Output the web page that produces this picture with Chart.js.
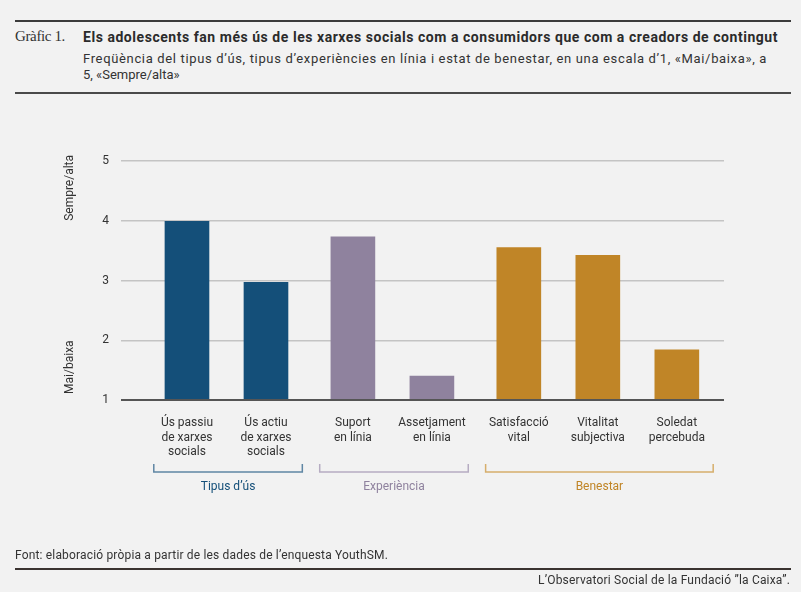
<!DOCTYPE html>
<html>
<head>
<meta charset="utf-8">
<script src="https://cdn.jsdelivr.net/npm/chart.js@4"></script>
<style>
  html, body { margin:0; padding:0; background:#f2f2f2; }
  body { width:801px; height:592px; position:relative; overflow:hidden; font-family: Roboto, "Noto Sans", sans-serif; color:#333; }
  .abs { position:absolute; white-space:nowrap; }
  .rule { position:absolute; left:15px; width:776px; height:2px; }
  #chart { position:absolute; left:0; top:0; }
</style>
</head>
<body>
<div class="rule" style="top:20px;background:#3b3b3b;"></div>
<div class="abs fit" data-w="50" style="left:15px;top:29px;font-family:'Liberation Serif',serif;font-size:15px;line-height:15px;color:#333;">Gràfic 1.</div>
<div class="abs fit" data-w="695" style="left:83px;top:30px;font-size:14px;line-height:14px;font-weight:700;color:#2b2b2b;">Els adolescents fan més ús de les xarxes socials com a consumidors que com a creadors de contingut</div>
<div class="abs fit" data-w="684" style="left:83px;top:51px;font-size:13px;line-height:16px;color:#333;">Freqüència del tipus d’ús, tipus d’experiències en línia i estat de benestar, en una escala d’1, «Mai/baixa», a</div>
<div class="abs" style="left:83px;top:67px;font-size:13px;line-height:16px;color:#333;">5, «Sempre/alta»</div>
<div class="rule" style="top:92px;background:#4a4a4a;"></div>

<canvas id="chart" width="801" height="592"></canvas>

<div class="abs fit" data-w="373" style="left:15px;top:549px;font-size:12px;line-height:12px;color:#333;">Font: elaboració pròpia a partir de les dades de l’enquesta YouthSM.</div>
<div class="rule" style="top:568px;background:#3a3330;"></div>
<div class="abs fit" data-w="252" style="right:11px;top:574px;font-size:12px;line-height:12px;color:#333;">L’Observatori Social de la Fundació ”la Caixa”.</div>

<script>
// ---- Data ----
const categories = [
  ["Ús passiu", "de xarxes", "socials"],
  ["Ús actiu", "de xarxes", "socials"],
  ["Suport", "en línia"],
  ["Assetjament", "en línia"],
  ["Satisfacció", "vital"],
  ["Vitalitat", "subjectiva"],
  ["Soledat", "percebuda"]
];
const values = [3.99, 2.97, 3.73, 1.40, 3.55, 3.42, 1.84];
const groupOfCategory = [0, 0, 1, 1, 2, 2, 2];
const groupNames = ["Tipus d’ús", "Experiència", "Benestar"];
const groupColors = ["#144f79", "#8f829e", "#c08527"];
const bracketColors = ["#5f86a4", "#b6acc2", "#d6ae6c"];
const yTicks = [1, 2, 3, 4, 5];
const yEndLabels = ["Mai/baixa", "Sempre/alta"];

// ---- Fit header/footer text widths ----
document.querySelectorAll('.fit').forEach(el => {
  const target = +el.dataset.w;
  const w = el.getBoundingClientRect().width;
  const n = el.textContent.length;
  const ls = Math.max(-1.2, Math.min(1.2, (target - w) / n));
  el.style.letterSpacing = ls + 'px';
});

// ---- Layout of category positions (group gap) ----
const GROUP_GAP = 0.1;
const positions = categories.map((c, i) => i + groupOfCategory[i] * GROUP_GAP);

const FONT = "Roboto, 'Noto Sans', sans-serif";

const extrasPlugin = {
  id: 'extras',
  afterDatasetsDraw(chart) {
    const ctx = chart.ctx;
    const area = chart.chartArea;
    const y = chart.scales.y;
    ctx.save();
    ctx.strokeStyle = '#555555';
    ctx.lineWidth = 2;
    const by = y.getPixelForValue(yTicks[0]);
    ctx.beginPath();
    ctx.moveTo(area.left, by);
    ctx.lineTo(area.right, by);
    ctx.stroke();
    ctx.restore();
  },
  afterDraw(chart) {
    const ctx = chart.ctx;
    const x = chart.scales.x;
    const y = chart.scales.y;
    ctx.save();
    ctx.fillStyle = '#333';
    ctx.font = '12px ' + FONT;
    ctx.textAlign = 'center';
    ctx.textBaseline = 'middle';
    const ends = [
      { text: yEndLabels[0], yy: y.getPixelForValue(1.55) },
      { text: yEndLabels[1], yy: y.getPixelForValue(4.55) }
    ];
    ends.forEach(e => {
      ctx.save();
      ctx.translate(70, e.yy);
      ctx.rotate(-Math.PI / 2);
      ctx.fillText(e.text, 0, 0);
      ctx.restore();
    });
    const top = 464, bot = 472;
    groupNames.forEach((name, g) => {
      const idx = positions.filter((p, i) => groupOfCategory[i] === g);
      const x0 = x.getPixelForValue(idx[0] - 0.42);
      const x1 = x.getPixelForValue(idx[idx.length - 1] + 0.46);
      ctx.strokeStyle = bracketColors[g];
      ctx.lineWidth = 1.5;
      ctx.beginPath();
      ctx.moveTo(x0, top);
      ctx.lineTo(x0, bot);
      ctx.lineTo(x1, bot);
      ctx.lineTo(x1, top);
      ctx.stroke();
      ctx.fillStyle = groupColors[g];
      ctx.font = '12px ' + FONT;
      ctx.textAlign = 'center';
      ctx.textBaseline = 'middle';
      ctx.fillText(name, (x0 + x1) / 2, 487);
    });
    ctx.restore();
  }
};

new Chart(document.getElementById('chart'), {
  type: 'bar',
  data: {
    datasets: [{
      data: values.map((v, i) => ({ x: positions[i], y: v })),
      backgroundColor: values.map((v, i) => groupColors[groupOfCategory[i]]),
      barThickness: 44,
      base: yTicks[0],
      borderWidth: 0
    }]
  },
  options: {
    responsive: false,
    animation: false,
    devicePixelRatio: 1,
    layout: { padding: { left: 0, top: 161, right: 77, bottom: 0 } },
    plugins: { legend: { display: false }, tooltip: { enabled: false } },
    scales: {
      x: {
        type: 'linear',
        bounds: 'data',
        offset: false,
        min: -0.835,
        max: 6.797,
        grid: { display: false, offset: false },
        border: { display: false },
        afterBuildTicks: s => { s.ticks = positions.map(v => ({ value: v })); },
        afterFit: s => { s.height = 192; },
        ticks: {
          autoSkip: false,
          maxRotation: 0,
          minRotation: 0,
          padding: 8,
          color: '#333',
          font: { family: FONT, size: 12, lineHeight: 1.2 },
          callback: (v, i) => categories[i]
        }
      },
      y: {
        min: yTicks[0],
        max: yTicks[yTicks.length - 1],
        afterBuildTicks: s => { s.ticks = yTicks.map(v => ({ value: v })); },
        afterFit: s => { s.width = 121; },
        border: { display: false },
        grid: {
          drawTicks: false,
          color: c => c.tick && c.tick.value === yTicks[0] ? '#555555' : '#c4c4c4',
          lineWidth: c => c.tick && c.tick.value === yTicks[0] ? 2 : 1.5
        },
        ticks: {
          padding: 12,
          color: '#333',
          font: { family: FONT, size: 12 }
        }
      }
    }
  },
  plugins: [extrasPlugin]
});
</script>
</body>
</html>
